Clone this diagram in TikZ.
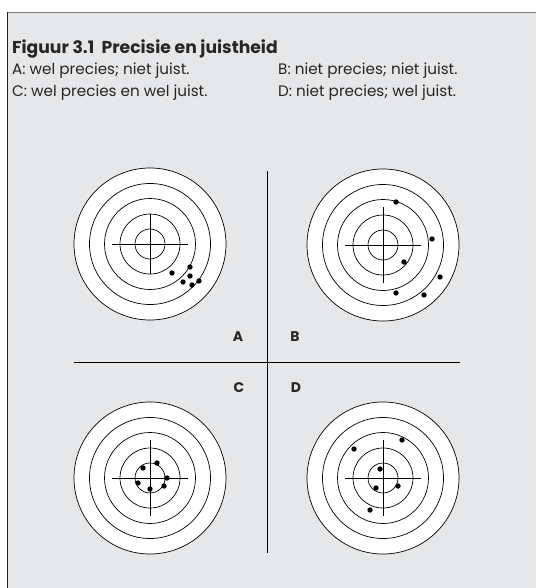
\documentclass[tikz,border=0pt]{standalone}
\usepackage{fontspec}
\setmainfont{Poppins}
\definecolor{panel}{HTML}{E6E7E9}
\definecolor{topline}{HTML}{7A7A7A}
\definecolor{leftline}{HTML}{1E1E1E}
\begin{document}
\begin{tikzpicture}[x=1pt,y=-1pt,
  ring/.style={draw=black,line width=0.7pt},
  cross/.style={draw=black,line width=0.8pt},
  shot/.style={fill=black},
  bodytext/.style={font=\fontsize{15.2}{17}\selectfont,inner sep=0pt,anchor=base west,text=black!85},
  quad/.style={font=\fontsize{14}{16}\selectfont\bfseries,inner sep=0pt,text=black!85},
  divider/.style={draw=black,line width=1pt}]
\useasboundingbox (0,0) rectangle (536,588);
\fill[white] (0,0) rectangle (536,588);
\fill[panel] (7,12) rectangle (536,588);
\draw[topline,line width=1.6pt] (7,12.5) -- (536,12.5);
\draw[leftline,line width=1.4pt] (7.5,12) -- (7.5,588);
\node[bodytext,font=\fontsize{17.2}{19}\selectfont\bfseries] (title) at (12,54) {Figuur 3.1\ \ Precisie en juistheid};
\node[bodytext] (la) at (12,75) {A: wel precies; niet juist.};
\node[bodytext] (lb) at (278,75) {B: niet precies; niet juist.};
\node[bodytext] (lc) at (12,97) {C: wel precies en wel juist.};
\node[bodytext] (ld) at (278,97) {D: niet precies; wel juist.};
% targets
\newcommand{\target}[4]{%
  \fill[white] (#1,#2) circle (76);
  \foreach \r in {15,30,45.5,60.5,76} {\draw[ring] (#1,#2) circle (\r);}
  \draw[cross] (#1-38,#2) -- (#1+38,#2);
  \draw[cross] (#1,#2-#3) -- (#1,#2+#4);
}
\target{150}{244}{30}{30}
\target{383}{245}{38}{38}
\target{150}{478}{38}{38}
\target{383}{478}{38}{38}
% shots A
\foreach \p in {(172,273),(190,267),(190,276),(183,282),(192,285),(199,281)} {\fill[shot] \p circle (2.7);}
% shots B
\foreach \p in {(396,202),(432,239),(404,262),(440,277),(396,293),(424,295)} {\fill[shot] \p circle (2.7);}
% shots C
\foreach \p in {(143,468),(157,463),(167,478),(164,486),(150,489),(138,483)} {\fill[shot] \p circle (2.7);}
% shots D
\foreach \p in {(402,440),(354,449),(380,469),(376,488),(398,486),(370,510)} {\fill[shot] \p circle (2.7);}
% dividers
\coordinate (vt) at (267,171);
\coordinate (vb) at (267,553);
\coordinate (hl) at (74,362);
\coordinate (hr) at (460,362);
\draw[divider] (vt) -- (vb);
\draw[divider] (hl) -- (hr);
\node[quad] (qa) at (238,337) {A};
\node[quad] (qb) at (295,337) {B};
\node[quad] (qc) at (239,388) {C};
\node[quad] (qd) at (296,388) {D};
\end{tikzpicture}
\end{document}
